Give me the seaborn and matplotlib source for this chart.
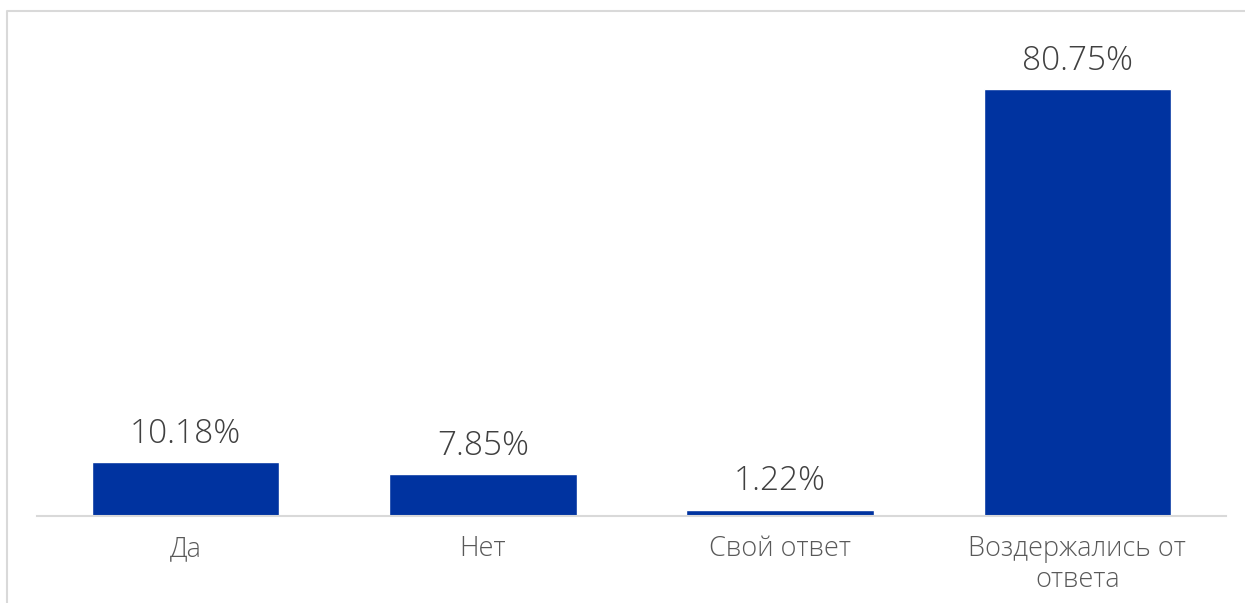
import matplotlib
matplotlib.use("Agg")
import matplotlib.pyplot as plt
from matplotlib.lines import Line2D
import seaborn as sns

categories = ["Да", "Нет", "Свой ответ", "Воздержались от\nответа"]
values = [10.18, 7.85, 1.22, 80.75]

BAR_COLOR = "#0033A0"
LABEL_COLOR = "#404040"
TICK_COLOR = "#595959"
LINE_COLOR = "#D9D9D9"

sns.set_theme(style="white")
plt.rcParams["font.family"] = ["Open Sans", "DejaVu Sans"]

W, H = 1245, 603
fig = plt.figure(figsize=(W / 100, H / 100), dpi=100)

# plot area in pixel coordinates
left, right, bottom, top = 37, 1226, 516, 40
ax = fig.add_axes([left / W, 1 - bottom / H, (right - left) / W, (bottom - top) / H])

sns.barplot(x=categories, y=values, color=BAR_COLOR, saturation=1, width=0.63, ax=ax)

ax.set_xlim(-0.5, 3.5)
ax.set_ylim(0, 90)
ax.set_xlabel("")
ax.set_ylabel("")
ax.set_yticks([])
for side in ("top", "left", "right"):
    ax.spines[side].set_visible(False)
ax.spines["bottom"].set_color(LINE_COLOR)
ax.spines["bottom"].set_linewidth(1.5)
ax.tick_params(axis="x", length=0, pad=14, labelsize=19.5, labelcolor=TICK_COLOR)
for lbl in ax.get_xticklabels():
    lbl.set_linespacing(1.12)
    lbl.set_fontweight("light")

ax.bar_label(ax.containers[0], fmt="%.2f%%", padding=8, fontsize=24,
             color=LABEL_COLOR, fontweight="light")

# chart frame (left and top edges)
fig.add_artist(Line2D([7 / W, 7 / W, 1.0], [0.0, 1 - 11 / H, 1 - 11 / H],
                      transform=fig.transFigure, color=LINE_COLOR, linewidth=1.5))

fig.savefig("out.png", dpi=100)
